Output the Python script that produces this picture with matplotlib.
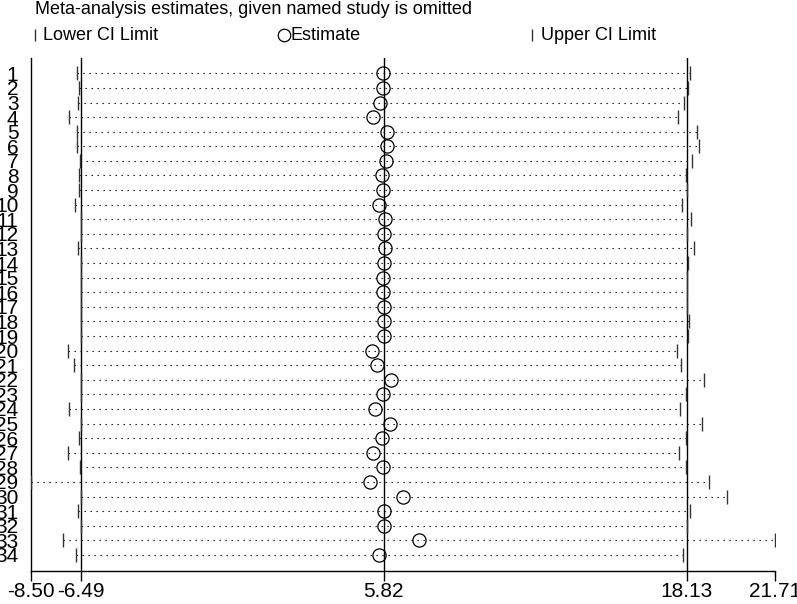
import matplotlib
matplotlib.use("Agg")
import matplotlib.pyplot as plt
from matplotlib.lines import Line2D

studies = [str(i) for i in range(1, 35)]
lower = [-6.62, -6.56, -6.61, -6.97, -6.62, -6.65, -6.52, -6.54, -6.56, -6.71,
         -6.45, -6.45, -6.60, -6.47, -6.47, -6.47, -6.47, -6.49, -6.45, -6.99,
         -6.76, -6.45, -6.45, -6.94, -6.45, -6.54, -6.98, -6.50, -8.50, -6.47,
         -6.58, -6.45, -7.19, -6.69]
estimate = [5.78, 5.78, 5.67, 5.37, 5.95, 5.95, 5.91, 5.77, 5.78, 5.62,
            5.87, 5.82, 5.89, 5.82, 5.81, 5.81, 5.82, 5.83, 5.83, 5.34,
            5.55, 6.13, 5.81, 5.45, 6.09, 5.77, 5.40, 5.79, 5.26, 6.62,
            5.82, 5.82, 7.24, 5.62]
upper = [18.24, 18.17, 18.01, 17.79, 18.56, 18.61, 18.36, 18.09, 18.13, 17.94,
         18.29, 18.13, 18.41, 18.16, 18.13, 18.13, 18.15, 18.21, 18.16, 17.74,
         17.90, 18.81, 18.11, 17.87, 18.73, 18.09, 17.80, 18.10, 19.05, 19.77,
         18.25, 18.15, 21.71, 17.96]
overall = [-6.49, 5.82, 18.13]
xticks = [-8.50, -6.49, 5.82, 18.13, 21.71]
xticklabels = ["-8.50", "-6.49", "5.82", "18.13", "21.71"]

W, H = 797, 604
fig = plt.figure(figsize=(W / 100, H / 100), dpi=100)
fig.patch.set_facecolor("white")

fam = ["Liberation Sans Narrow", "Liberation Sans", "DejaVu Sans"]
plt.rcParams["font.family"] = fam

left, right, top, bottom = 31, 775, 58, 571
ax = fig.add_axes([left / W, 1 - bottom / H, (right - left) / W, (bottom - top) / H])

ypos = list(range(1, len(studies) + 1))

for v in overall:
    ax.axvline(v, color="black", lw=1.0, zorder=1)

for y, lo, es, up in zip(ypos, lower, estimate, upper):
    ax.plot([lo, up], [y, y], color="black", lw=0.8,
            linestyle=(0, (1.2, 4.2)), zorder=2)
ax.plot(lower, ypos, linestyle="none", marker="|", markersize=10,
        markeredgewidth=1.0, color="#333333", zorder=3)
ax.plot(upper, ypos, linestyle="none", marker="|", markersize=10,
        markeredgewidth=1.0, color="#333333", zorder=3)
ax.plot(estimate, ypos, linestyle="none", marker="o", markersize=9.5,
        markerfacecolor="none", markeredgecolor="black", markeredgewidth=0.9,
        zorder=4)

ax.set_xlim(xticks[0], xticks[-1])
ax.set_ylim(35.1, -0.05)
ax.set_xticks(xticks)
ax.set_xticklabels(xticklabels, fontsize=15)
ax.set_yticks(ypos)
ax.set_yticklabels(studies, fontsize=15)
ax.tick_params(axis="y", length=0, pad=9)
ax.tick_params(axis="x", length=7, width=1, pad=1)
for s in ["top", "right"]:
    ax.spines[s].set_visible(False)
for s in ["left", "bottom"]:
    ax.spines[s].set_linewidth(1.0)

# title and legend row
tfam = ["Liberation Sans", "DejaVu Sans"]
fig.text(35 / W, 1 - 10 / H, "Meta-analysis estimates, given named study is omitted",
         fontsize=13, family=tfam, va="center", ha="left")

leg_y = 1 - 35 / H
fig.add_artist(Line2D([35 / W], [leg_y], marker="|", markersize=9, markeredgewidth=1,
                      color="#333333", transform=fig.transFigure))
fig.text(43 / W, leg_y, "Lower CI Limit", fontsize=13, family=tfam,
         va="center", ha="left")
fig.add_artist(Line2D([284 / W], [leg_y], marker="o", markersize=9,
                      markerfacecolor="none", markeredgecolor="black",
                      markeredgewidth=0.9, transform=fig.transFigure))
fig.text(291 / W, leg_y, "Estimate", fontsize=13, family=tfam,
         va="center", ha="left")
fig.add_artist(Line2D([532 / W], [leg_y], marker="|", markersize=9, markeredgewidth=1,
                      color="#333333", transform=fig.transFigure))
fig.text(541 / W, leg_y, "Upper CI Limit", fontsize=13, family=tfam,
         va="center", ha="left")

fig.savefig("out.png", dpi=100)
